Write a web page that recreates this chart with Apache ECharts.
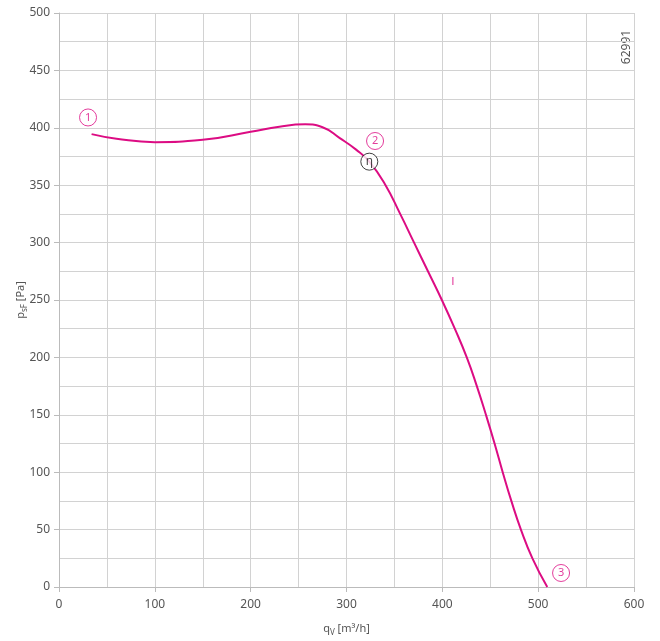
<!DOCTYPE html>
<html>
<head>
<meta charset="utf-8">
<script src="https://cdn.jsdelivr.net/npm/echarts@6/dist/echarts.min.js"></script>
<style>
  html, body { margin: 0; padding: 0; background: #fff; }
  #chart { width: 660px; height: 641px; }
</style>
</head>
<body>
<div id="chart"></div>
<script>
// fan curve: [qV m3/h, psF Pa]
var curve = [
  [34, 394.5], [60, 390.5], [100, 387.5], [150, 389.5], [200, 396.5],
  [230, 401], [257, 403], [275, 400.5], [293, 391], [310, 381],
  [323.8, 370.5], [340, 351], [356, 325], [370.5, 300], [385, 275],
  [399.5, 250], [413, 225], [425.5, 200], [436, 175], [445.5, 150],
  [454.5, 125], [463, 100], [472, 75], [482, 50], [494, 25],
  [509.5, 0]
]
// operating point markers
var pointLabels = ['1', '2', '3']
var pointPos = [[30.3, 409], [329.8, 388.5], [523.9, 12.2]]
var etaPos = [323.8, 370.5]
var curveLabelPos = [411, 265.7]

var pink = '#dc0c83'
var gray = '#555'
var font = 'Noto Sans'

var chart = echarts.init(document.getElementById('chart'))

var nameRich = {
  a: { fontSize: 11, color: gray, fontFamily: font, padding: [0, 0, 3, 0], verticalAlign: 'bottom' },
  s: { fontSize: 8, color: gray, fontFamily: font, verticalAlign: 'bottom' }
}

var option = {
  animation: false,
  textStyle: { fontFamily: font },
  grid: { left: 59, right: 26, top: 13, bottom: 54, outerBoundsMode: 'none', containLabel: false },
  xAxis: {
    type: 'value',
    min: 0,
    max: 600,
    interval: 100,
    name: '{a|q}{s|V}{a| [m³/h]}',
    nameLocation: 'middle',
    nameGap: 36,
    nameMoveOverlap: false,
    nameTextStyle: { rich: nameRich },
    axisLine: { show: true, lineStyle: { color: '#bbb', width: 1 } },
    axisTick: { show: true, length: 5, lineStyle: { color: '#bbb' } },
    axisLabel: { color: gray, fontSize: 12, margin: 12 },
    splitLine: { show: true, lineStyle: { color: '#d2d2d2', width: 1 } },
    minorTick: { show: false, splitNumber: 2 },
    minorSplitLine: { show: true, lineStyle: { color: '#d2d2d2', width: 1 } }
  },
  yAxis: {
    type: 'value',
    min: 0,
    max: 500,
    interval: 50,
    name: '{a|p}{s|sF}{a| [Pa]}',
    nameLocation: 'middle',
    nameGap: 30,
    nameMoveOverlap: false,
    nameTextStyle: { rich: nameRich },
    axisLine: { show: true, lineStyle: { color: '#bbb', width: 1 } },
    axisTick: { show: true, length: 5, lineStyle: { color: '#bbb' } },
    axisLabel: { color: gray, fontSize: 12, margin: 9 },
    splitLine: { show: true, lineStyle: { color: '#d2d2d2', width: 1 } },
    minorTick: { show: false, splitNumber: 2 },
    minorSplitLine: { show: true, lineStyle: { color: '#d2d2d2', width: 1 } }
  },
  series: [
    {
      type: 'line',
      data: curve,
      smooth: 0.5,
      symbol: 'none',
      lineStyle: { color: pink, width: 2 },
      z: 3
    },
    {
      type: 'scatter',
      data: pointPos.map(function (p, i) { return { name: pointLabels[i], value: p } }),
      symbol: 'circle',
      symbolSize: 17,
      itemStyle: { color: '#fff', borderColor: pink, borderWidth: 1 },
      label: { show: true, position: 'inside', formatter: '{b}', color: pink, fontSize: 11, fontFamily: font },
      z: 4
    },
    {
      type: 'scatter',
      data: [{ name: 'η', value: etaPos }],
      symbol: 'circle',
      symbolSize: 17,
      itemStyle: { color: '#fff', borderColor: '#111', borderWidth: 1 },
      label: { show: true, position: 'inside', formatter: '{b}', color: '#111', fontSize: 12, fontFamily: font },
      z: 5
    },
    {
      type: 'scatter',
      data: [{ name: 'I', value: curveLabelPos }],
      symbolSize: 0,
      label: { show: true, position: 'inside', formatter: '{b}', color: pink, fontSize: 11, fontFamily: 'DejaVu Sans' },
      z: 4
    }
  ],
  graphic: [
    {
      type: 'text',
      x: 627,
      y: 47,
      rotation: Math.PI / 2,
      style: { text: '62991', fill: gray, font: '12px "Noto Sans"', textAlign: 'center', textVerticalAlign: 'middle' }
    }
  ]
}

chart.setOption(option)
</script>
</body>
</html>
